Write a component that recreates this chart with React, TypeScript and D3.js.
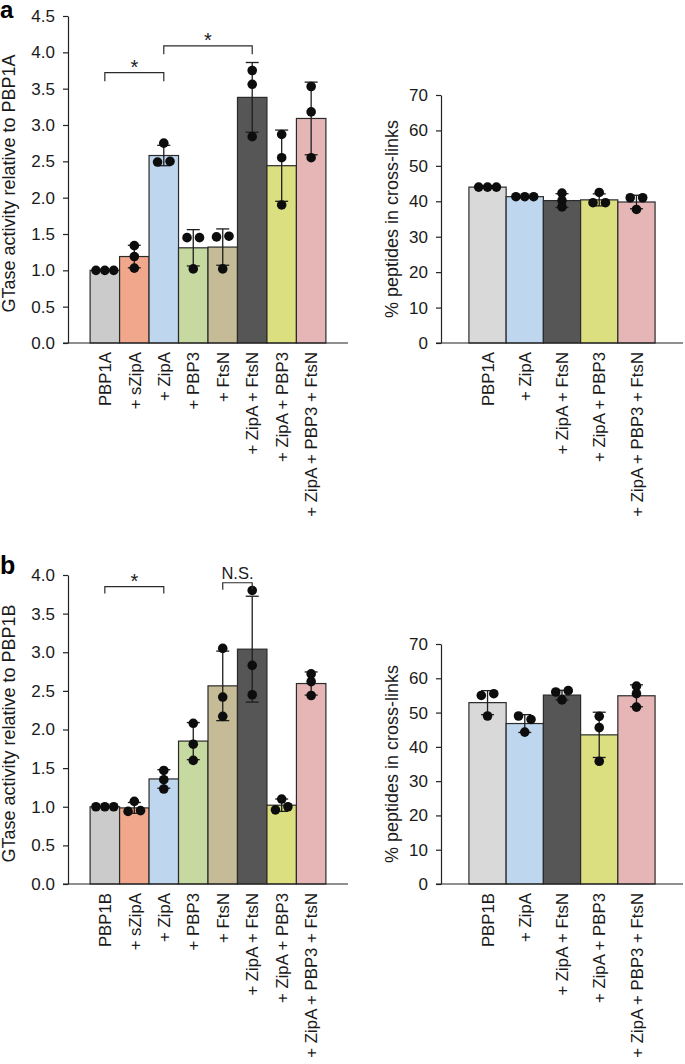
import { useEffect, useRef } from 'react'
import * as d3 from 'd3'

const FONT = '"Liberation Sans", Arial, Helvetica, sans-serif'

// ---- panel a, GTase (left) ----
const gtaseLabelsA = ['PBP1A', '+ sZipA', '+ ZipA', '+ PBP3', '+ FtsN', '+ ZipA + FtsN', '+ ZipA + PBP3', '+ ZipA + PBP3 + FtsN']
const gtaseValuesA = [1.0, 1.19, 2.58, 1.31, 1.32, 3.38, 2.44, 3.09]
const gtaseErrorsA = [0, 0.155, 0.14, 0.25, 0.25, 0.48, 0.49, 0.5]
const gtaseDotsA = [
  [1.0, 1.0, 1.0],
  [1.34, 1.19, 1.03],
  [2.75, 2.49, 2.5],
  [1.45, 1.45, 1.02],
  [1.46, 1.47, 1.02],
  [3.75, 3.56, 2.84],
  [2.87, 2.55, 1.9],
  [3.53, 3.18, 2.55],
]

// ---- panel a, cross-links (right) ----
const crossLabelsA = ['PBP1A', '+ ZipA', '+ ZipA + FtsN', '+ ZipA + PBP3', '+ ZipA + PBP3 + FtsN']
const crossValuesA = [44.0, 41.3, 40.2, 40.4, 39.8]
const crossErrorsA = [0.2, 0.2, 1.95, 1.7, 1.9]
const crossDotsA = [
  [44.0, 44.0, 44.0],
  [41.3, 41.3, 41.3],
  [42.3, 40.2, 38.4],
  [42.5, 39.6, 39.6],
  [41.0, 41.0, 37.7],
]

// ---- panel b, GTase (left) ----
const gtaseLabelsB = ['PBP1B', '+ sZipA', '+ ZipA', '+ PBP3', '+ FtsN', '+ ZipA + FtsN', '+ ZipA + PBP3', '+ ZipA + PBP3 + FtsN']
const gtaseValuesB = [1.0, 0.985, 1.36, 1.85, 2.565, 3.04, 1.02, 2.595]
const gtaseErrorsB = [0, 0.07, 0.12, 0.24, 0.45, 0.685, 0.08, 0.15]
const gtaseDotsB = [
  [1.0, 1.0, 1.0],
  [1.07, 0.94, 0.95],
  [1.47, 1.35, 1.23],
  [2.08, 1.81, 1.6],
  [3.05, 2.42, 2.17],
  [3.8, 2.83, 2.45],
  [1.1, 0.96, 1.0],
  [2.72, 2.62, 2.44],
]

// ---- panel b, cross-links (right) ----
const crossLabelsB = ['PBP1B', '+ ZipA', '+ ZipA + FtsN', '+ ZipA + PBP3', '+ ZipA + PBP3 + FtsN']
const crossValuesB = [52.9, 46.8, 55.1, 43.5, 54.9]
const crossErrorsB = [3.5, 2.6, 1.4, 6.6, 3.2]
const crossDotsB = [
  [55.0, 55.5, 49.0],
  [49.0, 48.0, 44.3],
  [56.0, 56.4, 53.7],
  [48.9, 45.6, 35.8],
  [57.7, 55.5, 51.6],
]

const gtaseColors = ['#cbcbcb', '#f0a78b', '#bed6ee', '#c6d9a0', '#c5bb96', '#565656', '#dcdf80', '#e6b6b6']
const crossColors = ['#d9d9d9', '#bed6ee', '#565656', '#dcdf80', '#e6b6b6']

type Bracket = { from: number; to: number; y: number; label: string }

const bracketsA: Bracket[] = [
  { from: 0, to: 2, y: 3.72, label: '*' },
  { from: 2, to: 5, y: 4.09, label: '*' },
]
const bracketsB: Bracket[] = [
  { from: 0, to: 2, y: 3.85, label: '*' },
  { from: 4, to: 5, y: 3.9, label: 'N.S.' },
]

type PanelProps = {
  left: number
  right: number
  top: number
  bottom: number
  yMax: number
  ticks: number
  decimals: number
  labels: string[]
  colors: string[]
  values: number[]
  errors: number[]
  dots: number[][]
  title: string
  titleX: number
  titleShift?: number
  brackets?: Bracket[]
  drop?: number
}

const R = 4.8

// spread near-identical points sideways so they don't sit on top of each other
function dotOffsets(px: number[]): number[] {
  const used = px.map(() => false)
  const off = px.map(() => 0)
  for (let i = 0; i < px.length; i++) {
    if (used[i]) continue
    const group = [i]
    used[i] = true
    for (let j = i + 1; j < px.length; j++) {
      if (!used[j] && Math.abs(px[j] - px[i]) < R) {
        group.push(j)
        used[j] = true
      }
    }
    if (group.length === 2) {
      off[group[0]] = -1.3 * R
      off[group[1]] = 1.3 * R
    } else if (group.length > 2) {
      group.forEach((gi, k) => {
        off[gi] = (k - (group.length - 1) / 2) * 1.85 * R
      })
    }
  }
  return off
}

function BarPanel(p: PanelProps) {
  const gRef = useRef<SVGGElement | null>(null)

  useEffect(() => {
    const el = gRef.current
    if (!el) return
    const g = d3.select(el)
    g.selectAll('*').remove()

    const x = d3
      .scaleBand<string>()
      .domain(p.labels)
      .range([p.left, p.right])
      .paddingInner(0)
      .paddingOuter(0.75)
    const y = d3.scaleLinear().domain([0, p.yMax]).range([p.bottom, p.top])
    const bw = x.bandwidth()
    const cx = (i: number) => (x(p.labels[i]) ?? 0) + bw / 2

    g.selectAll('rect.bar')
      .data(p.values)
      .enter()
      .append('rect')
      .attr('class', 'bar')
      .attr('x', (_, i) => x(p.labels[i]) ?? 0)
      .attr('y', (d) => y(d))
      .attr('width', bw)
      .attr('height', (d) => y(0) - y(d))
      .attr('fill', (_, i) => p.colors[i])
      .attr('stroke', '#2b2b2b')
      .attr('stroke-width', 1.2)

    // error bars (mean +/- sd)
    const eb = g.append('g').attr('stroke', '#1e1e1e').attr('stroke-width', 1.3)
    p.values.forEach((v, i) => {
      const e = p.errors[i]
      if (!e) return
      const c = cx(i)
      eb.append('line').attr('x1', c).attr('x2', c).attr('y1', y(v - e)).attr('y2', y(v + e))
      ;[v - e, v + e].forEach((t) => {
        eb.append('line')
          .attr('x1', c - 6.5)
          .attr('x2', c + 6.5)
          .attr('y1', y(t))
          .attr('y2', y(t))
      })
    })

    // replicate points
    const dg = g.append('g').attr('fill', '#0d0d0d')
    p.dots.forEach((vals, i) => {
      const off = dotOffsets(vals.map((v) => y(v)))
      vals.forEach((v, k) => {
        dg.append('circle').attr('cx', cx(i) + off[k]).attr('cy', y(v)).attr('r', R)
      })
    })

    // axes
    const yAxis = d3
      .axisLeft(y)
      .ticks(p.ticks)
      .tickSize(5)
      .tickSizeOuter(0)
      .tickPadding(8)
      .tickFormat((d) => d3.format(`.${p.decimals}f`)(d as number))
    const ax = g
      .append('g')
      .attr('transform', `translate(${p.left},0)`)
      .call(yAxis)
      .attr('font-size', 17)
      .attr('font-family', FONT)
    ax.selectAll('line,path').attr('stroke', '#222').attr('stroke-width', 1.2)
    ax.selectAll('text').attr('fill', '#1a1a1a')

    g.append('line')
      .attr('x1', p.left - 5)
      .attr('x2', p.right)
      .attr('y1', y(0))
      .attr('y2', y(0))
      .attr('stroke', '#222')
      .attr('stroke-width', 1.2)

    // category labels
    g.selectAll('text.cat')
      .data(p.labels)
      .enter()
      .append('text')
      .attr('class', 'cat')
      .attr('transform', (_, i) => `translate(${cx(i) + 6.2},${y(0) + 9}) rotate(-90)`)
      .attr('text-anchor', 'end')
      .attr('font-size', 16.8)
      .attr('font-family', FONT)
      .attr('fill', '#1a1a1a')
      .text((d) => d)

    g.append('text')
      .attr(
        'transform',
        `translate(${p.titleX},${(p.top + p.bottom) / 2 + (p.titleShift ?? 0)}) rotate(-90)`,
      )
      .attr('text-anchor', 'middle')
      .attr('font-size', 18)
      .attr('font-family', FONT)
      .attr('fill', '#1a1a1a')
      .text(p.title)

    // significance brackets
    const drop = p.drop ?? 8
    ;(p.brackets ?? []).forEach((b) => {
      const x1 = cx(b.from)
      const x2 = cx(b.to)
      const yb = y(b.y)
      g.append('path')
        .attr('d', `M${x1},${yb + drop}V${yb}H${x2}V${yb + drop}`)
        .attr('fill', 'none')
        .attr('stroke', '#2b2b2b')
        .attr('stroke-width', 1.2)
      g.append('text')
        .attr('x', (x1 + x2) / 2)
        .attr('y', b.label === '*' ? yb + 1 : yb - 3.5)
        .attr('text-anchor', 'middle')
        .attr('font-size', b.label === '*' ? 20 : 16.5)
        .attr('font-family', FONT)
        .attr('fill', '#1a1a1a')
        .text(b.label)
    })
  }, [p])

  return <g ref={gRef} />
}

export default function App() {
  return (
    <svg
      width={685}
      height={1064}
      style={{ position: 'absolute', left: 0, top: 0, background: '#fff' }}
    >
      <rect width={685} height={1064} fill="#fff" />
      <text x={0} y={18} fontSize={24} fontWeight="bold" fontFamily={FONT}>
        a
      </text>
      <text x={0} y={574} fontSize={25} fontWeight="bold" fontFamily={FONT}>
        b
      </text>
      <BarPanel
        left={68}
        right={348}
        top={16}
        bottom={343}
        yMax={4.5}
        ticks={9}
        decimals={1}
        labels={gtaseLabelsA}
        colors={gtaseColors}
        values={gtaseValuesA}
        errors={gtaseErrorsA}
        dots={gtaseDotsA}
        title="GTase activity relative to PBP1A"
        titleX={15}
        titleShift={4}
        brackets={bracketsA}
        drop={8.5}
      />
      <BarPanel
        left={441}
        right={683}
        top={95}
        bottom={343}
        yMax={70}
        ticks={7}
        decimals={0}
        labels={crossLabelsA}
        colors={crossColors}
        values={crossValuesA}
        errors={crossErrorsA}
        dots={crossDotsA}
        title="% peptides in cross-links"
        titleX={398}
      />
      <BarPanel
        left={68}
        right={348}
        top={575}
        bottom={884}
        yMax={4}
        ticks={8}
        decimals={1}
        labels={gtaseLabelsB}
        colors={gtaseColors}
        values={gtaseValuesB}
        errors={gtaseErrorsB}
        dots={gtaseDotsB}
        title="GTase activity relative to PBP1B"
        titleX={15}
        titleShift={4}
        brackets={bracketsB}
        drop={7}
      />
      <BarPanel
        left={441}
        right={683}
        top={644}
        bottom={884}
        yMax={70}
        ticks={7}
        decimals={0}
        labels={crossLabelsB}
        colors={crossColors}
        values={crossValuesB}
        errors={crossErrorsB}
        dots={crossDotsB}
        title="% peptides in cross-links"
        titleX={398}
      />
    </svg>
  )
}
